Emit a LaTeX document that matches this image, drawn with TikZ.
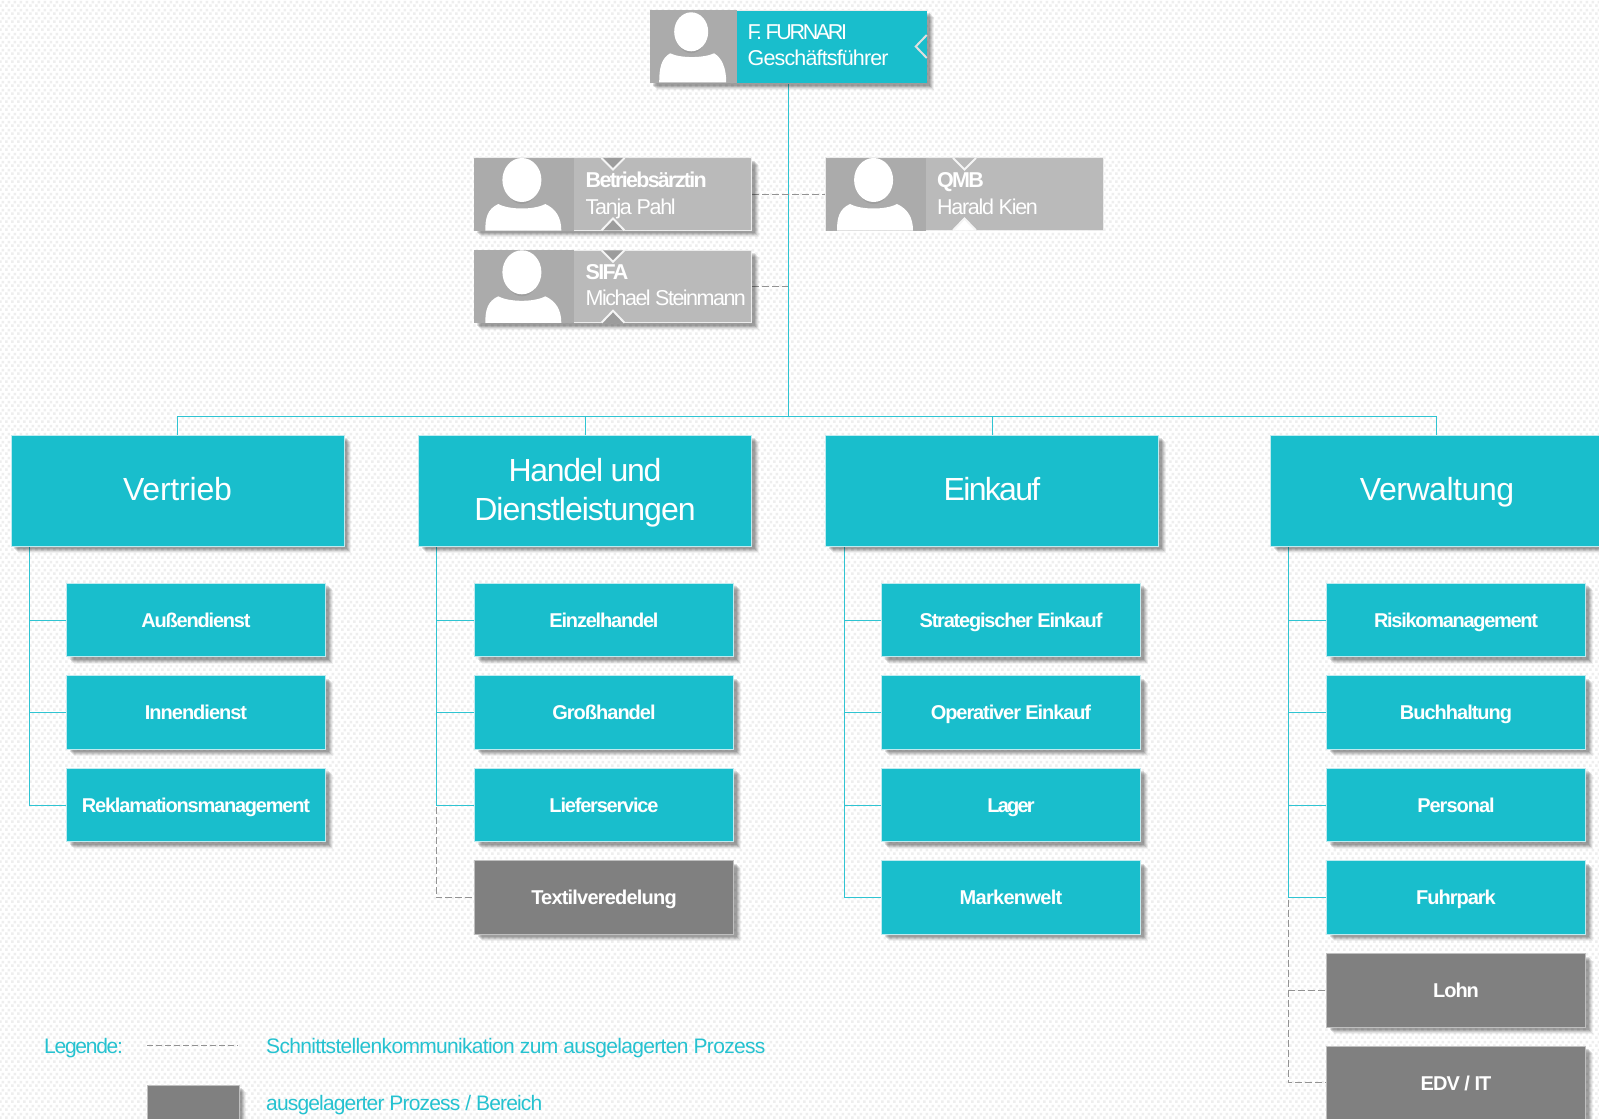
\documentclass[tikz,border=0pt]{standalone}
\usepackage{fontspec}
\setmainfont[LetterSpace=-3]{Liberation Sans}
\usetikzlibrary{patterns,shadows,calc}
\definecolor{tealbox}{HTML}{19BECC}
\definecolor{tealline}{HTML}{2FC4D2}
\definecolor{tealedge}{HTML}{BFEBF0}
\definecolor{tealtext}{HTML}{25C2D0}
\definecolor{darkbox}{HTML}{808080}
\definecolor{lightbox}{HTML}{BABABA}
\definecolor{imgbox}{HTML}{ABABAB}
\definecolor{notchgray}{HTML}{9C9C9C}
\definecolor{chin}{HTML}{9E9E9E}
\definecolor{dashgray}{HTML}{939393}
\definecolor{dotgray}{HTML}{EEEEEE}
\newcommand{\ls}[1]{\addfontfeature{LetterSpace=#1}}
\pgfdeclarepatternformonly{bgdots}{\pgfpointorigin}{\pgfqpoint{6pt}{8pt}}{\pgfqpoint{6pt}{8pt}}{
  \pgfpathrectangle{\pgfqpoint{0pt}{0pt}}{\pgfqpoint{3pt}{3pt}}
  \pgfpathrectangle{\pgfqpoint{3pt}{4pt}}{\pgfqpoint{3pt}{3pt}}
  \pgfusepath{fill}
}
\tikzset{
  softshadow/.style={
    drop shadow={shadow xshift=7pt,shadow yshift=-7pt,opacity=.05,fill=black},
    drop shadow={shadow xshift=6pt,shadow yshift=-6pt,opacity=.07,fill=black},
    drop shadow={shadow xshift=5pt,shadow yshift=-5pt,opacity=.09,fill=black},
    drop shadow={shadow xshift=4pt,shadow yshift=-4pt,opacity=.11,fill=black},
    drop shadow={shadow xshift=3pt,shadow yshift=-3pt,opacity=.12,fill=black}},
  box/.style={rectangle,inner sep=0pt,outer sep=0pt,align=center,text=white,softshadow},
  mainbox/.style={box,fill=tealbox,draw=tealedge,line width=1pt,minimum width=333pt,minimum height=111pt,
    text height=23pt,text depth=4pt,font=\fontsize{32}{39}\selectfont},
  maintext/.style={inner sep=0pt,align=center,text=white,font=\fontsize{32}{39}\selectfont},
  subbox/.style={box,fill=tealbox,draw=tealedge,line width=1pt,minimum width=259pt,minimum height=73.5pt,
    text height=14.4pt,text depth=0pt,font=\fontsize{20}{24}\selectfont\addfontfeature{LetterSpace=-5}\bfseries},
  extbox/.style={subbox,fill=darkbox,draw=lightgray},
  card/.style={box,fill=lightbox,draw=white!85!gray,line width=1pt,minimum width=277.5pt,minimum height=72.5pt},
  flatcard/.style={rectangle,inner sep=0pt,outer sep=0pt,fill=lightbox,draw=white!85!gray,line width=1pt,minimum width=277.5pt,minimum height=72.5pt},
  cardtext/.style={anchor=west,inner sep=0pt,text=white,text height=15.5pt,text depth=0pt,font=\fontsize{21.5}{26}\selectfont\addfontfeature{LetterSpace=-6}},
  cardhead/.style={cardtext,font=\fontsize{21.5}{26}\selectfont\addfontfeature{LetterSpace=-8}\bfseries},
  link/.style={draw=tealline,line width=1pt},
  dashlink/.style={draw=dashgray,line width=1pt,dash pattern=on 7pt off 3pt},
  notch/.style={fill=#1,draw=white!92!gray,line width=2pt,line join=miter},
  legendtext/.style={anchor=west,inner sep=0pt,text=tealtext,text height=15pt,text depth=0pt,font=\fontsize{21}{25}\selectfont\addfontfeature{LetterSpace=-4}},
  ceoicon/.pic={
    \fill[imgbox] (0,0) rectangle (87,72.5);
    \fill[white] (9,72) .. controls (9,58) and (11,48) .. (20,43) .. controls (30,48) and (53,48) .. (64,43) .. controls (72,48) and (76,58) .. (76,72) -- cycle;
    \fill[chin] (41,23.5) ellipse [x radius=15,y radius=19.5];
    \fill[white] (41,21.5) ellipse [x radius=17,y radius=19.5];
  },
  staffimg/.pic={
    \fill[imgbox] (0,0) rectangle (99.6,72.5);
    \fill[white] (11,72.5) .. controls (11,60) and (13,51) .. (24,46) .. controls (35,52) and (60,52) .. (71,46) .. controls (82,51) and (87,60) .. (87,72.5) -- cycle;
    \fill[chin] (47.6,24) ellipse [x radius=17,y radius=22];
    \fill[white] (47.6,22) ellipse [x radius=19.5,y radius=22];
  },
}
\begin{document}
\begin{tikzpicture}[x=1pt,y=-1pt]
\useasboundingbox (0,0) rectangle (1599,1119);
\path[clip] (0,0) rectangle (1599,1119);
\fill[white] (0,0) rectangle (1599,1119);
\fill[pattern=bgdots,pattern color=dotgray] (0,0) rectangle (1599,1119);

\coordinate (bus) at (788,416);
\coordinate (vv) at (29,546);
\coordinate (hv) at (436,546);
\coordinate (ev) at (844,546);
\coordinate (wv) at (1288,546);

\coordinate (vA) at (66,620);   \coordinate (vB) at (66,712.5);  \coordinate (vC) at (66,805);
\coordinate (hA) at (473.5,620);\coordinate (hB) at (473.5,712.5);\coordinate (hC) at (473.5,805);\coordinate (hD) at (473.5,897.7);
\coordinate (eA) at (881,620);  \coordinate (eB) at (881,712.5); \coordinate (eC) at (881,805);  \coordinate (eD) at (881,897.7);
\coordinate (wA) at (1325.5,620);\coordinate (wB) at (1325.5,712.5);\coordinate (wC) at (1325.5,805);\coordinate (wD) at (1325.5,897.7);\coordinate (wE) at (1325.5,990);\coordinate (wF) at (1325.5,1082.7);
\coordinate (mV) at (177.5,435);\coordinate (mH) at (585.5,435);\coordinate (mE) at (992.5,435);\coordinate (mW) at (1436.5,435);
\coordinate (ceoS) at (788,84);
\coordinate (sL) at (752,194);\coordinate (sR) at (825,194);\coordinate (sS) at (752,286.5);

\draw[link] (ceoS) -- (bus);
\draw[link] (mV) |- (bus);
\draw[link] (mH) |- (bus);
\draw[link] (mE) |- (bus);
\draw[link] (mW) |- (bus);
\draw[dashlink] (sL) -- (sR);
\draw[dashlink] (sS) -- (sS -| bus);
\draw[link] (vv) |- (vA); \draw[link] (vv) |- (vB); \draw[link] (vv) |- (vC);
\draw[link] (hv) |- (hA); \draw[link] (hv) |- (hB); \draw[link] (hv) |- (hC);
\draw[dashlink] (hv |- hC) ++(0,2) |- (hD);
\draw[link] (ev) |- (eA); \draw[link] (ev) |- (eB); \draw[link] (ev) |- (eC); \draw[link] (ev) |- (eD);
\draw[link] (wv) |- (wA); \draw[link] (wv) |- (wB); \draw[link] (wv) |- (wC); \draw[link] (wv) |- (wD);
\draw[dashlink] (wv |- wD) ++(0,2) |- (wE);
\draw[dashlink] (wv |- wD) ++(0,2) |- (wF);

% CEO
\node[card,minimum width=276.5pt] (ceo) at (788.5,46.5) {};
\fill[tealbox] (736.5,10.7) rectangle (926.5,82.5);
\pic at (650.2,10.3) {ceoicon};
\draw[notch=tealbox,draw=white!75!gray] (ceo.east) ++(0,-11.5) -- ++(-11,11.5) -- ++(11,11.5);
\node[cardtext] (ceoA) at (747.5,31.5) {\ls{-11}F. FURNARI};
\node[cardtext] (ceoB) at (747.5,57.5) {\ls{-4}Geschäftsführer};

% Staff
\node[card] (betrieb) at (613,194.2) {};
\pic at (474.3,158) {staffimg};
\draw[notch=notchgray] (betrieb.north) ++(-11.5,0) -- ++(11.5,11.5) -- ++(11.5,-11.5);
\draw[notch=notchgray] (betrieb.south) ++(-11.5,0) -- ++(11.5,-12) -- ++(11.5,12);
\node[cardhead] (betA) at (585.5,179.5) {Betriebsärztin};
\node[cardtext] (betB) at (585.5,207) {Tanja Pahl};

\node[card] (sifa) at (613,286.5) {};
\pic at (474.3,250.3) {staffimg};
\draw[notch=notchgray] (sifa.north) ++(-11.5,0) -- ++(11.5,11.5) -- ++(11.5,-11.5);
\draw[notch=notchgray] (sifa.south) ++(-11.5,0) -- ++(11.5,-12) -- ++(11.5,12);
\node[cardhead] (sifaA) at (585.5,272) {SIFA};
\node[cardtext] (sifaB) at (585.5,298) {\ls{-7}Michael Steinmann};

\node[flatcard] (qmb) at (964.5,194.2) {};
\pic at (826,158) {staffimg};
\draw[notch=lightbox] (qmb.north) ++(-11.5,0) -- ++(11.5,11.5) -- ++(11.5,-11.5);
\draw[notch=white] (qmb.south) ++(-11.5,0) -- ++(11.5,-12) -- ++(11.5,12);
\node[cardhead] (qmbA) at (937,179.5) {QMB};
\node[cardtext] (qmbB) at (937,207) {Harald Kien};

% Main boxes
\node[mainbox] (vertrieb) at (177.5,490.5) {\ls{-0.6}Vertrieb};
\node[mainbox,text height=,text depth=] (handel) at (585,490.5) {};
\node[maintext] (handelT) at (585,492.5) {\ls{-4.3}Handel und\\\ls{-3.2}Dienstleistungen};
\node[mainbox] (einkauf) at (992,490.5) {\ls{-5.3}Einkauf};
\node[mainbox] (verw) at (1437,490.5) {\ls{-1.4}Verwaltung};

% Sub boxes
\node[subbox] (s1) at (196,620) {\ls{-6}Außendienst};
\node[subbox] (s2) at (196,712.5) {Innendienst};
\node[subbox] (s3) at (196,805) {\ls{-6}Reklamationsmanagement};
\node[subbox] (s4) at (604,620) {\ls{-6}Einzelhandel};
\node[subbox] (s5) at (604,712.5) {Großhandel};
\node[subbox] (s6) at (604,805) {\ls{-6}Lieferservice};
\node[extbox] (s7) at (604,897.7) {\ls{-4}Textilveredelung};
\node[subbox] (s8) at (1011,620) {\ls{-6}Strategischer Einkauf};
\node[subbox] (s9) at (1011,712.5) {\ls{-5.5}Operativer Einkauf};
\node[subbox] (s10) at (1011,805) {\ls{-9}Lager};
\node[subbox] (s11) at (1011,897.7) {\ls{-3.5}Markenwelt};
\node[subbox] (s12) at (1456,620) {\ls{-6.5}Risikomanagement};
\node[subbox] (s13) at (1456,712.5) {Buchhaltung};
\node[subbox] (s14) at (1456,805) {Personal};
\node[subbox] (s15) at (1456,897.7) {Fuhrpark};
\node[extbox] (s16) at (1456,990.5) {Lohn};
\node[extbox] (s17) at (1456,1083) {EDV / IT};

% Legend
\node[legendtext] (leg) at (44,1045.5) {\ls{-6}Legende:};
\coordinate (legA) at (147,1045.5);\coordinate (legB) at (238,1045.5);
\draw[dashlink,dash pattern=on 6pt off 3pt] (legA) -- (legB);
\node[legendtext] (legC) at (266,1045.5) {\ls{-3.2}Schnittstellenkommunikation zum ausgelagerten Prozess};
\node[extbox,minimum width=92pt,minimum height=70pt,anchor=north west] (legD) at (147,1085) {};
\node[legendtext] (legE) at (266,1102.5) {ausgelagerter Prozess / Bereich};
\end{tikzpicture}
\end{document}
